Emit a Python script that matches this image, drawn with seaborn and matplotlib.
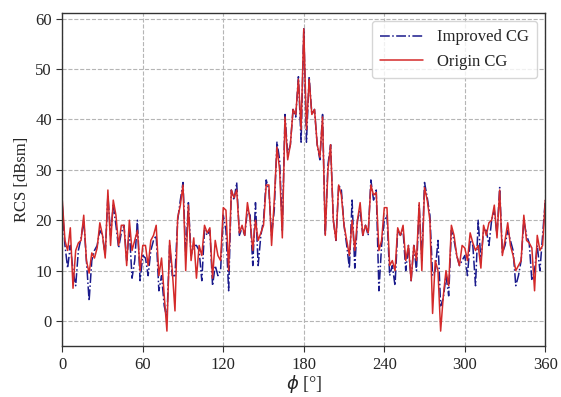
import matplotlib
matplotlib.use("Agg")
import matplotlib.pyplot as plt
import numpy as np
import pandas as pd
import seaborn as sns

# azimuth angle, 2 degree step
phi = np.arange(0, 361, 2)

origin_cg = [
    24, 16, 14, 18.5, 6.5, 14, 15.5, 16, 21, 12,
    9.5, 13.5, 12.5, 14.5, 19.5, 17, 12.5, 26, 15, 24,
    21, 15, 19, 19, 11, 20, 14, 16, 18, 10,
    15, 15, 11, 16, 17, 19, 9, 12.5, 5, -2,
    16, 10, 2, 20.5, 23, 27, 10, 23, 12, 16.5,
    8.5, 15, 13, 19, 17.5, 18.5, 8.5, 16, 13, 12,
    22.5, 22, 10, 26, 24.5, 26, 17.5, 19, 17, 23.5,
    20, 14, 20, 16, 17.5, 19, 27, 27, 15, 24,
    34.5, 30, 16.5, 40.5, 32, 35, 42, 41, 48, 38,
    58, 38, 48, 41, 42, 35, 32.5, 40.5, 17, 30,
    35, 20, 16, 27, 25, 19, 16, 13, 20, 14,
    20, 23.5, 17, 19, 17.5, 27, 25, 25.5, 14, 16,
    22.5, 22.5, 11, 12, 10, 18.5, 17, 19, 12, 15,
    8, 15, 12, 23.5, 10, 26.5, 24, 20, 1.5, 12,
    10, -2, 5, 10, 7, 19, 17, 13, 11, 15,
    14.5, 12, 17.5, 15.5, 14, 15, 10.5, 19, 17, 19.5,
    20, 23, 16.5, 26, 13, 16, 19.5, 15, 13, 10,
    11, 12, 21, 16, 15.5, 14.5, 6, 17, 14, 15,
    24,
]

improved_cg = [
    23, 15, 10.5, 15, 10, 7, 14, 16.5, 20, 12,
    4, 12, 14, 15, 18, 17, 13, 25, 17, 23,
    19, 14.5, 17.5, 19, 12, 18, 8.5, 12, 20, 8,
    13, 12.5, 9, 14, 16, 17, 6, 9, 3, 0.5,
    15, 9, 9, 20, 24, 27.5, 13, 23.5, 13, 15,
    15, 14, 8, 18, 17, 18, 7, 11, 9, 10,
    21, 18, 6, 26, 24, 27.5, 17, 18.5, 17, 22,
    21, 11, 23.5, 11, 17, 20, 28, 26, 17, 22,
    35.5, 32, 18, 41, 33, 35, 42, 40.5, 48.5, 35.5,
    58, 35.5, 48.5, 41, 42, 35, 32, 41, 17, 31,
    35, 20, 16, 27, 26, 19, 15, 10.5, 24, 10.5,
    20, 22, 17, 19, 17, 28, 24, 26, 6, 15,
    20, 21, 9, 11, 7, 18, 17, 18, 10, 15,
    8, 15, 10, 23, 12, 27.5, 24.5, 21, 9, 10,
    16, 3, 4.5, 9, 5, 18, 16, 13, 11, 12,
    13, 9, 16, 15, 7, 20, 12, 18, 18, 15,
    20, 22, 17, 26.5, 13.5, 15, 18, 16, 14, 7,
    9, 12, 20, 17, 15.5, 8, 10, 15, 10, 17,
    24,
]

x_ticks = [0, 60, 120, 180, 240, 300, 360]
y_ticks = [0, 10, 20, 30, 40, 50, 60]

df = pd.DataFrame({"phi": phi, "Improved CG": improved_cg, "Origin CG": origin_cg})

sns.set_style("ticks")
plt.rcParams["font.family"] = ["Liberation Serif", "DejaVu Sans"]
plt.rcParams["mathtext.fontset"] = "dejavusans"

fig, ax = plt.subplots(figsize=(5.61, 3.97), dpi=100)
fig.subplots_adjust(left=0.111, right=0.972, top=0.968, bottom=0.128)

sns.lineplot(data=df, x="phi", y="Improved CG", color="#1a1a8c", linestyle="-.",
             linewidth=1.1, label="Improved CG", ax=ax)
sns.lineplot(data=df, x="phi", y="Origin CG", color="#d42a2a", linestyle="-",
             linewidth=1.1, label="Origin CG", ax=ax)

ax.set_xlim(0, 360)
ax.set_ylim(-5, 61.2)
ax.set_xticks(x_ticks)
ax.set_yticks(y_ticks)
ax.grid(True, linestyle="--", color="#b5b5b5", linewidth=0.8)
ax.tick_params(labelsize=12, direction="out", length=4, color="#333333")
for s in ax.spines.values():
    s.set_color("#333333")
    s.set_linewidth(1.0)

ax.set_xlabel(r"$\phi$ [°]", fontsize=13, labelpad=0)
ax.set_ylabel("RCS [dBsm]", fontsize=12, labelpad=4)

ax.legend(loc="upper right", fontsize=12, handlelength=2.6, frameon=True,
          edgecolor="#cccccc", fancybox=True, borderpad=0.5)

fig.savefig("out.png", dpi=100)
